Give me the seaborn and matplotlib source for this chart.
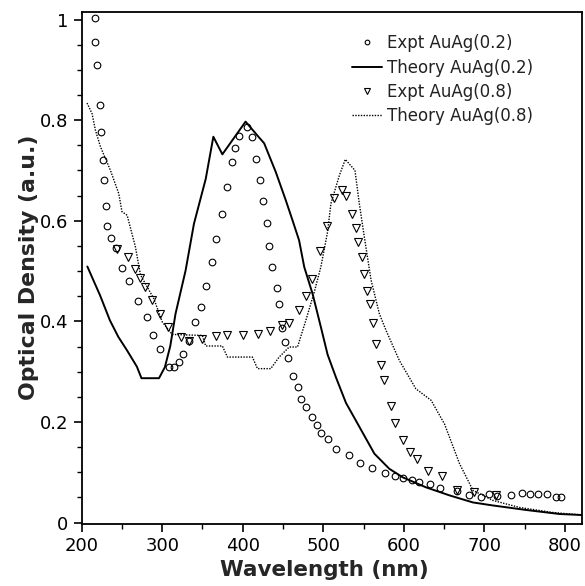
#!/usr/bin/env python3
"""Optical density spectra of AuAg particles: experiment vs theory."""

import matplotlib
matplotlib.use('Agg')
import matplotlib.pyplot as plt
from matplotlib.ticker import MultipleLocator, FuncFormatter
import seaborn as sns

# Expt AuAg(0.2) - open circles
expt02_wl = [217, 217, 219.5, 222.4, 223.6, 227, 227.8, 230.7, 232, 236.8, 242, 250,
             258.5, 270.5, 281, 289, 297.5, 308.7, 314.5, 320.7, 325.7, 333, 340.7,
             348, 354, 361.4, 367.2, 374.7, 381, 386.7, 390.8, 395.8, 405, 411, 417,
             422, 425.3, 430, 432.4, 436.5, 442.4, 445, 449, 452.3, 456.2, 462.5,
             468.7, 472.6, 478.8, 485.8, 492, 497.5, 506, 515.7, 532, 546, 561,
             576.7, 588.8, 598.7, 610, 619.5, 632, 644.8, 666.3, 681.3, 696.2,
             705.8, 715.8, 732.8, 746.5, 757.3, 767.3, 777.6, 788.8, 795.8]
expt02_od = [1.004, 0.956, 0.909, 0.831, 0.776, 0.720, 0.681, 0.630, 0.590, 0.565, 0.546,
             0.507, 0.480, 0.440, 0.409, 0.373, 0.346, 0.310, 0.310, 0.319, 0.335, 0.360,
             0.398, 0.428, 0.470, 0.517, 0.564, 0.614, 0.667, 0.717, 0.745, 0.769, 0.786,
             0.766, 0.722, 0.680, 0.639, 0.596, 0.550, 0.509, 0.466, 0.434, 0.387, 0.359,
             0.328, 0.292, 0.269, 0.246, 0.229, 0.210, 0.194, 0.178, 0.167, 0.147, 0.135,
             0.119, 0.108, 0.0995, 0.092, 0.088, 0.085, 0.080, 0.077, 0.069, 0.062, 0.055,
             0.050, 0.056, 0.052, 0.055, 0.059, 0.056, 0.056, 0.057, 0.051, 0.051]

# Theory AuAg(0.2) - solid line
theory02_wl = [207, 214.4, 222.7, 235, 245.5, 256, 268.5, 274.2, 296, 303.3, 310, 316.5,
               329, 339.4, 354, 363.5, 374.7, 403.5, 419.5, 426.6, 441, 453.4, 461.8,
               470, 476.4, 486.7, 497, 505.4, 515.7, 528.2, 545, 563.5, 582, 598.7,
               627.7, 656.9, 686, 710.8, 752.3, 793.8, 822]
theory02_od = [0.509, 0.482, 0.452, 0.402, 0.369, 0.343, 0.310, 0.287, 0.287, 0.309, 0.351,
               0.415, 0.501, 0.594, 0.683, 0.767, 0.732, 0.797, 0.767, 0.754, 0.697, 0.641,
               0.601, 0.561, 0.508, 0.455, 0.389, 0.334, 0.289, 0.238, 0.190, 0.137, 0.107,
               0.090, 0.070, 0.054, 0.040, 0.034, 0.025, 0.017, 0.015]

# Expt AuAg(0.8) - open down triangles
expt08_wl = [244.3, 257.3, 266.7, 272.2, 279, 287.5, 297.5, 307.5, 322.8, 333.6, 349,
             366.4, 380, 400, 419.5, 434, 449, 458, 470.5, 478.4, 485.5, 496.3, 504.5,
             513.7, 523.7, 528.6, 536, 541, 543.6, 547.7, 551, 554.4, 558.5, 561.6,
             565.5, 572.3, 575.4, 583.8, 589.6, 598.7, 607.5, 616.5, 629.5, 647.6,
             666.3, 687, 714.8]
expt08_od = [0.543, 0.527, 0.505, 0.486, 0.468, 0.442, 0.414, 0.388, 0.368, 0.360, 0.364,
             0.370, 0.372, 0.372, 0.375, 0.380, 0.392, 0.396, 0.423, 0.451, 0.484, 0.540,
             0.589, 0.645, 0.662, 0.649, 0.614, 0.586, 0.558, 0.528, 0.495, 0.460, 0.434,
             0.397, 0.355, 0.313, 0.283, 0.231, 0.198, 0.165, 0.141, 0.126, 0.103, 0.092,
             0.065, 0.060, 0.055]

# Theory AuAg(0.8) - dotted line
theory08_wl = [206.6, 212.8, 217, 223.3, 235.7, 246, 250, 256.4, 266.7, 273, 289.6, 300,
               312.4, 349.8, 354, 374.7, 381, 412, 418.3, 434.8, 445.2, 457.7, 468,
               478.4, 488.8, 497, 505.4, 509.5, 520, 527.4, 539.4, 544.8, 551, 559.4,
               569.7, 578, 594.6, 615, 634, 650.6, 669.3, 686, 710.8, 744, 785.5, 822]
theory08_od = [0.834, 0.813, 0.780, 0.747, 0.700, 0.654, 0.618, 0.611, 0.548, 0.492, 0.445,
               0.399, 0.374, 0.372, 0.351, 0.351, 0.329, 0.329, 0.306, 0.306, 0.329, 0.349,
               0.349, 0.402, 0.458, 0.508, 0.578, 0.634, 0.690, 0.722, 0.700, 0.634, 0.568,
               0.482, 0.415, 0.382, 0.322, 0.266, 0.243, 0.196, 0.117, 0.064, 0.044, 0.030,
               0.020, 0.015]

sns.set_style('ticks')
plt.rcParams['font.family'] = ['DejaVu Sans']


def main():
    fig = plt.figure(figsize=(5.85, 5.86), dpi=100)
    ax = fig.add_axes([0.1397, 0.106, 0.856, 0.874])

    sns.lineplot(x=expt02_wl, y=expt02_od, ax=ax, estimator=None, sort=False,
                 linestyle='', marker='o', markersize=4.8, mfc='none', mec='black',
                 mew=0.8, label='Expt AuAg(0.2)')
    sns.lineplot(x=theory02_wl, y=theory02_od, ax=ax, estimator=None, sort=False,
                 color='black', linewidth=1.4, label='Theory AuAg(0.2)')
    sns.lineplot(x=expt08_wl, y=expt08_od, ax=ax, estimator=None, sort=False,
                 linestyle='', marker='v', markersize=5.2, mfc='none', mec='black',
                 mew=0.8, label='Expt AuAg(0.8)')
    sns.lineplot(x=theory08_wl, y=theory08_od, ax=ax, estimator=None, sort=False,
                 color='black', linewidth=1.0, dashes=(1, 1), label='Theory AuAg(0.8)')

    ax.set_xlim(200, 822)
    ax.set_ylim(-0.0026, 1.0155)
    ax.xaxis.set_major_locator(MultipleLocator(100))
    ax.xaxis.set_minor_locator(MultipleLocator(50))
    ax.yaxis.set_major_locator(MultipleLocator(0.2))
    ax.yaxis.set_minor_locator(MultipleLocator(0.05))
    ax.yaxis.set_major_formatter(FuncFormatter(lambda v, p: f'{v:g}'))
    ax.tick_params(which='major', direction='out', length=6, width=1.2,
                   labelsize=13, color='black', labelcolor='black')
    ax.tick_params(which='minor', direction='out', length=3.5, width=1.0,
                   color='black')
    for side in ['left', 'bottom', 'top', 'right']:
        ax.spines[side].set_visible(True)
        ax.spines[side].set_color('black')
        ax.spines[side].set_linewidth(1.3)

    ax.set_xlabel('Wavelength (nm)', fontsize=15.5, fontweight='bold')
    ax.set_ylabel('Optical Density (a.u.)', fontsize=15.8, fontweight='bold', labelpad=1)
    ax.xaxis.set_label_coords(0.485, -0.071)

    leg = ax.legend(loc='upper left', bbox_to_anchor=(0.526, 0.969), borderaxespad=0,
                    frameon=False, fontsize=12, handlelength=1.8, handletextpad=0.3,
                    labelspacing=0.38, markerscale=0.7)
    for t in leg.get_texts():
        t.set_color('#222222')

    fig.savefig('out.png', dpi=100)
    plt.close(fig)


if __name__ == '__main__':
    main()
